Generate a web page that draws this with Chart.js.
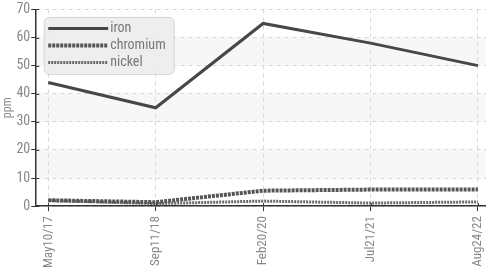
<!DOCTYPE html>
<html><head><meta charset="utf-8">
<script src="https://cdn.jsdelivr.net/npm/chart.js@4/dist/chart.umd.min.js"></script>
<style>html,body{margin:0;padding:0;background:#fff}#wrap{width:486px;height:276px}</style>
</head><body><div id="wrap"><canvas id="c" width="486" height="276"></canvas></div>
<script>
const categories = ["May10/17", "Sep11/18", "Feb20/20", "Jul21/21", "Aug24/22"];
const iron = [44, 35, 65, 58, 50];
const chromium = [2.1, 1.4, 5.5, 5.9, 5.9];
const nickel = [2.0, 0.9, 1.8, 1.1, 1.5];
const yTicks = [0, 10, 20, 30, 40, 50, 60, 70];
const seriesNames = ["iron", "chromium", "nickel"];

const FONT = "'Roboto Condensed','DejaVu Sans Condensed',sans-serif";
const toPts = arr => arr.map((v, i) => ({x: i, y: v}));

const bands = {
  id: 'bands',
  beforeDraw(chart) {
    const {ctx, chartArea, scales: {y}} = chart;
    ctx.save();
    ctx.fillStyle = '#f7f7f7';
    [[10,20],[30,40],[50,60]].forEach(([a,b]) => {
      const t = y.getPixelForValue(b), bt = y.getPixelForValue(a);
      ctx.fillRect(chartArea.left, t, chartArea.right - chartArea.left, bt - t);
    });
    ctx.restore();
  }
};

const innerTicks = {
  id: 'innerTicks',
  afterDatasetsDraw(chart) {
    const {ctx, chartArea, scales: {x, y}} = chart;
    ctx.save();
    ctx.strokeStyle = '#333';
    ctx.lineWidth = 1;
    ctx.beginPath();
    y.ticks.forEach(t => {
      const py = Math.round(y.getPixelForValue(t.value)) + 0.5;
      ctx.moveTo(chartArea.left, py); ctx.lineTo(chartArea.left + 3, py);
    });
    x.ticks.forEach(t => {
      const px = Math.round(x.getPixelForValue(t.value)) + 0.5;
      ctx.moveTo(px, chartArea.bottom); ctx.lineTo(px, chartArea.bottom - 3);
    });
    ctx.stroke();
    ctx.restore();
  }
};

const boxLegend = {
  id: 'boxLegend',
  afterDraw(chart) {
    const {ctx, chartArea} = chart;
    const x0 = chartArea.left + 8, y0 = chartArea.top + 8, w = 130, h = 57;
    ctx.save();
    ctx.beginPath();
    ctx.roundRect(x0, y0, w, h, 5);
    ctx.fillStyle = 'rgba(236,236,236,0.9)';
    ctx.fill();
    ctx.strokeStyle = '#d4d4d4';
    ctx.lineWidth = 1;
    ctx.stroke();
    chart.data.datasets.forEach((ds, i) => {
      const yy = y0 + 11 + i * 17;
      ctx.beginPath();
      ctx.setLineDash(ds.borderDash || []);
      ctx.strokeStyle = ds.borderColor;
      ctx.lineWidth = ds.borderWidth;
      ctx.moveTo(x0 + 4, yy);
      ctx.lineTo(x0 + 64, yy);
      ctx.stroke();
      ctx.setLineDash([]);
      ctx.fillStyle = '#777';
      ctx.font = '14px ' + FONT;
      ctx.textBaseline = 'middle';
      ctx.fillText(ds.label, x0 + 66, yy);
    });
    ctx.restore();
  }
};

new Chart(document.getElementById('c'), {
  type: 'line',
  data: {
    datasets: [
      {label: seriesNames[0], data: toPts(iron), borderColor: '#474747', borderWidth: 3, pointRadius: 0, tension: 0},
      {label: seriesNames[1], data: toPts(chromium), borderColor: '#555', borderWidth: 4, borderDash: [3, 1], pointRadius: 0, tension: 0},
      {label: seriesNames[2], data: toPts(nickel), borderColor: '#6a6a6a', borderWidth: 3, borderDash: [2, 1], pointRadius: 0, tension: 0}
    ]
  },
  plugins: [bands, innerTicks, boxLegend],
  options: {
    responsive: false,
    animation: false,
    layout: {padding: {top: 2, right: 0, left: 0, bottom: 3}},
    plugins: {legend: {display: false}, tooltip: {enabled: false}},
    scales: {
      x: {
        type: 'linear',
        min: -0.112, max: 4.075,
        afterBuildTicks: s => { s.ticks = categories.map((_, i) => ({value: i})); },
        afterFit: s => { s.paddingRight = 0; s.paddingLeft = 0; },
        ticks: {
          callback: v => categories[v],
          autoSkip: false, maxRotation: 90, minRotation: 90,
          color: '#888', font: {family: FONT, size: 13}, padding: 5
        },
        grid: {color: '#d8d8d8', tickColor: '#333', tickLength: 5, tickBorderDash: [], drawTicks: true},
        border: {color: '#333', width: 1.5, dash: [4, 4]}
      },
      y: {
        min: 0, max: 70,
        afterBuildTicks: s => { s.ticks = yTicks.map(v => ({value: v})); },
        ticks: {color: '#888', font: {family: FONT, size: 14}, padding: 1},
        title: {display: true, text: 'ppm', color: '#888', font: {family: FONT, size: 12}, padding: {top: 1, bottom: 0}},
        grid: {color: '#d8d8d8', tickColor: '#333', tickLength: 5, tickBorderDash: []},
        border: {color: '#333', width: 1.5, dash: [4, 4]}
      }
    }
  }
});
</script></body></html>
